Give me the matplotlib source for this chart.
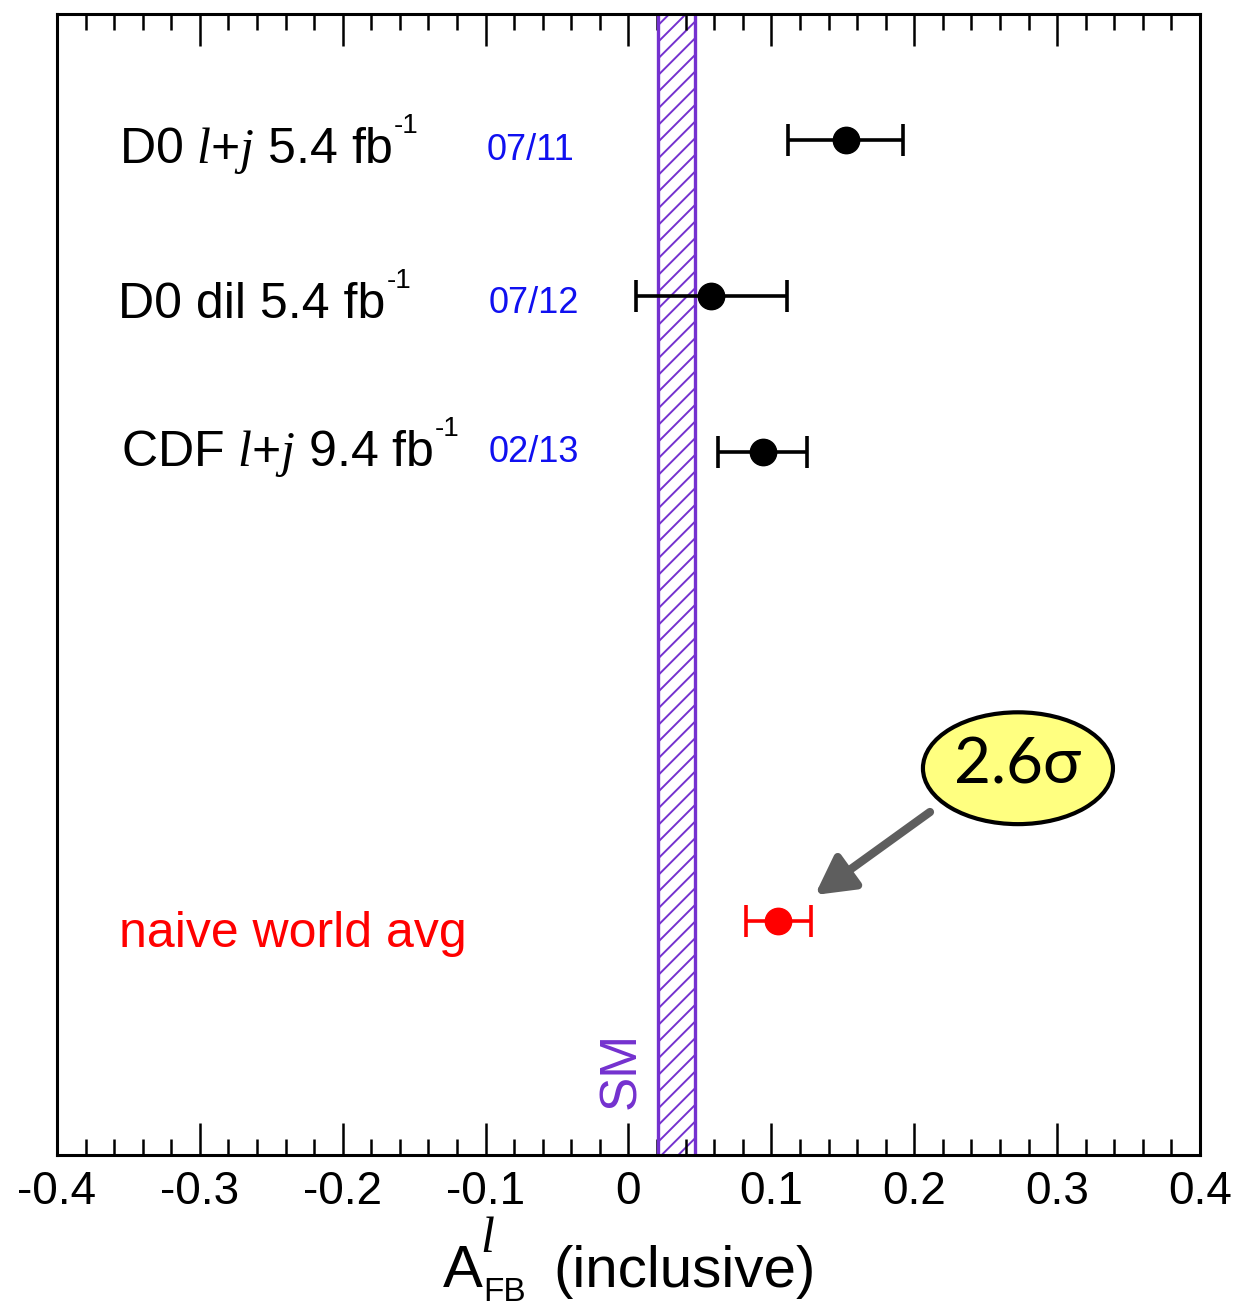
"""Lepton forward-backward asymmetry: Tevatron measurements vs SM."""

import matplotlib

matplotlib.use("Agg")
import matplotlib.pyplot as plt
from matplotlib.patches import Ellipse
from matplotlib.ticker import MultipleLocator

plt.rcParams["font.family"] = ["Liberation Sans", "DejaVu Sans"]
plt.rcParams["mathtext.fontset"] = "custom"
plt.rcParams["mathtext.rm"] = "Liberation Sans"
plt.rcParams["mathtext.it"] = "Liberation Serif:italic"
plt.rcParams["hatch.linewidth"] = 1.4

PURPLE = "#7431CF"
W_PX, H_PX = 1239, 1310

# measurements (value, error), rows from top
labels = ["D0 $l$+$j$ 5.4 fb", "D0 dil 5.4 fb", "CDF $l$+$j$ 9.4 fb"]
dates = ["07/11", "07/12", "02/13"]
values = [0.152, 0.058, 0.094]
errors = [0.040, 0.053, 0.031]
rows = [0.890, 0.753, 0.616]

avg_label = "naive world avg"
avg_value = 0.105
avg_error = 0.023
avg_row = 0.205

sm_lo, sm_hi = 0.021, 0.0465
significance = "2.6σ"

xticks = [-0.4, -0.3, -0.2, -0.1, 0, 0.1, 0.2, 0.3, 0.4]
xticklabels = ["-0.4", "-0.3", "-0.2", "-0.1", "0", "0.1", "0.2", "0.3", "0.4"]

fig = plt.figure(figsize=(W_PX / 100, H_PX / 100), dpi=100)
ax = fig.add_axes([0.046, 0.1183, 0.9225, 0.871])
ax.set_xlim(-0.4, 0.4)
ax.set_ylim(0, 1)

# SM band
ax.axvspan(sm_lo, sm_hi, facecolor="none", edgecolor=PURPLE, hatch="//", lw=0, zorder=1)
ax.axvline(sm_lo, color=PURPLE, lw=2.4, zorder=2)
ax.axvline(sm_hi, color=PURPLE, lw=2.4, zorder=2)
ax.text(-0.0045, 0.0745, "SM", rotation=90, color=PURPLE, fontsize=37,
        ha="center", va="center")

# measurements
ax.errorbar(values, rows, xerr=errors, fmt="o", color="black", ms=19,
            elinewidth=2.6, capsize=11.5, capthick=2.6, zorder=4)
ax.errorbar([avg_value], [avg_row], xerr=[avg_error], fmt="o", color="red", ms=19,
            elinewidth=2.6, capsize=11.5, capthick=2.6, zorder=4)

label_x = [-0.3566, -0.3573, -0.3552]
label_y = [0.869, 0.7336, 0.604]
date_y = [0.872, 0.738, 0.607]
date_x = [-0.099, -0.0977, -0.0977]
label_texts = []
for lab, lx, ly, d, dx, dy in zip(labels, label_x, label_y, dates, date_x, date_y):
    label_texts.append(ax.text(lx, ly, lab, fontsize=36, va="baseline", ha="left"))
    ax.text(dx, dy, d, fontsize=26, color="#1010F0", va="baseline", ha="left")

ax.text(-0.3566, 0.182, avg_label, fontsize=36, color="red", va="baseline", ha="left")

# significance bubble + arrow
ax.add_patch(Ellipse((0.2726, 0.339), 0.133, 0.098, facecolor="#FFFF80",
                     edgecolor="black", lw=3, zorder=5))
ax.text(0.2726, 0.341, significance, fontsize=46, family=["Lato", "DejaVu Sans"],
        ha="center", va="center", zorder=6)
ax.annotate("", xy=(0.1305, 0.2279), xytext=(0.211, 0.3006),
            arrowprops=dict(arrowstyle="-|>,head_length=2.3,head_width=1.25",
                            color="#5E5E5E", lw=6, shrinkA=0, shrinkB=0), zorder=5)

# axes styling
ax.set_xticks(xticks)
ax.set_xticklabels(xticklabels)
ax.xaxis.set_minor_locator(MultipleLocator(0.02))
ax.tick_params(axis="x", which="major", direction="in", length=23, width=1.8,
               top=True, labelsize=33, pad=11)
ax.tick_params(axis="x", which="minor", direction="in", length=11.5, width=1.8, top=True)
ax.set_yticks([])
for sp in ax.spines.values():
    sp.set_linewidth(2.2)

# x-axis title built from pieces (big raised l, large FB subscript)
fig.text(443 / W_PX, 1 - 1287 / H_PX, "A", fontsize=43, va="baseline", ha="left")
fig.text(483 / W_PX, 1 - 1301 / H_PX, "FB", fontsize=24, va="baseline", ha="left")
fig.text(480 / W_PX, 1 - 1252 / H_PX, "l", fontsize=36, va="baseline", ha="left",
         family="Liberation Serif", style="italic")
fig.text(553 / W_PX, 1 - 1287 / H_PX, "(inclusive)", fontsize=42, va="baseline", ha="left")

# "-1" superscripts after each fb, placed from the rendered label extents
fig.canvas.draw()
renderer = fig.canvas.get_renderer()
for t, ly in zip(label_texts, label_y):
    bb = t.get_window_extent(renderer)
    base_px = ax.transData.transform((0, ly))[1]
    fig.text((bb.x1 + 1) / W_PX, (base_px + 30) / H_PX, "-1", fontsize=20,
             va="baseline", ha="left")

fig.savefig("out.png")
